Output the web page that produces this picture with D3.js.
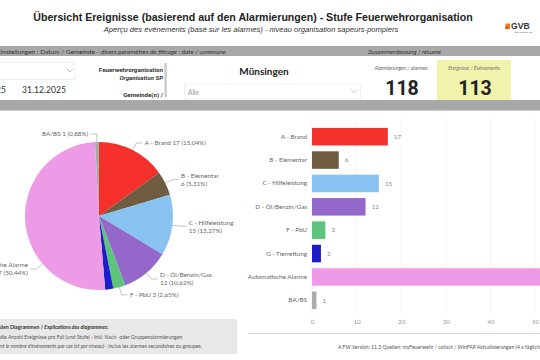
<!DOCTYPE html>
<html><head><meta charset="utf-8">
<script src="https://cdn.jsdelivr.net/npm/d3@7"></script>
<style>
html,body{margin:0;padding:0;background:#fff;overflow:hidden}
svg{display:block}
text{font-family:Lato,"Open Sans",sans-serif}
</style></head>
<body>
<svg id="c" width="540" height="360"></svg>
<script>
// ---- data ----
const categories = ["A - Brand","B - Elementar","C - Hilfeleistung","D - Öl/Benzin/Gas","F - PbU","G - Tierrettung","Automatische Alarme","BA/BS"];
const values = [17,6,15,12,3,2,57,1];
const colors = ["#F5302A","#705C40","#88C2F1","#9467CB","#5DC47C","#1C1CC9","#EE9BE7","#ABABAB"];
const pieLabelShown = [true,true,true,true,true,false,true,true];
const xTicks = [0,10,20,30,40,50];
const alarmCount = 118;
const eventCount = 113;
const dateEnd = "31.12.2025";
const organisation = "Münsingen";

const svg = d3.select("#c");
const total = d3.sum(values);
const fmtPct = v => (v/total*100).toFixed(2).replace(".", ",") + "%";

// ---- header ----
svg.append("text").attr("x",253).attr("y",21).attr("text-anchor","middle")
  .style("font-family","'Liberation Sans',Arial,sans-serif").style("font-weight","bold").style("font-size","10.6px").attr("fill","#222")
  .text("Übersicht Ereignisse (basierend auf den Alarmierungen) - Stufe Feuerwehrorganisation");
svg.append("text").attr("x",251).attr("y",31.5).attr("text-anchor","middle")
  .style("font-family","'Liberation Sans',Arial,sans-serif").style("font-style","italic").style("font-size","7.6px").attr("fill","#333")
  .text("Aperçu des événements (basé sur les alarmes) - niveau organisation sapeurs-pompiers");
// logo
svg.append("rect").attr("x",505.5).attr("y",23.5).attr("width",4.5).attr("height",5.5).attr("fill","#F07A1C");
svg.append("rect").attr("x",505.5).attr("y",26.5).attr("width",2.2).attr("height",2.5).attr("fill","#E2401B");
svg.append("text").attr("x",511).attr("y",29).style("font-family","'Liberation Sans',Arial,sans-serif").style("font-weight","bold").style("font-size","8.6px").attr("fill","#333").text("GVB");
svg.append("text").attr("x",515).attr("y",32.5).style("font-size","2.6px").attr("fill","#666").text("Der Partner der");

// grey bars
svg.append("rect").attr("x",0).attr("y",46).attr("width",540).attr("height",10).attr("fill","#A8A8A8");
svg.append("rect").attr("x",0).attr("y",100).attr("width",540).attr("height",10).attr("fill","#A8A8A8");
svg.append("line").attr("x1",0).attr("x2",540).attr("y1",110.5).attr("y2",110.5).attr("stroke","#cfcfcf");
const t1 = svg.append("text").attr("x",-3).attr("y",53.5).style("font-size","6.5px").attr("fill","#333");
t1.append("tspan").text("Einstellungen : Datum / Gemeinde  - ");
t1.append("tspan").style("font-style","italic").text("divers paramètres de filtrage : date / commune");
svg.append("text").attr("x",368).attr("y",53.5).style("font-size","6.3px").style("font-style","italic").attr("fill","#333").text("Zusammenfassung / résumé");

// filter area
function chevron(x,y){
  svg.append("path").attr("d",`M${x-3},${y-1.5}L${x},${y+1.5}L${x+3},${y-1.5}`).attr("fill","none").attr("stroke","#999").attr("stroke-width",0.6);
}
svg.append("rect").attr("x",-1).attr("y",62.5).attr("width",76).attr("height",17).attr("fill","#fff").attr("stroke","#e2e2e2").attr("stroke-width",0.6);
chevron(70,70.5);
svg.append("text").attr("x",-4).attr("y",92.5).style("font-size","8.6px").attr("fill","#333").text("25");
svg.append("text").attr("x",22).attr("y",92.5).style("font-size","8.6px").attr("fill","#333").text(dateEnd);
const lf = {"font-size":"6.2px","font-weight":"bold","font-family":"Roboto,sans-serif"};
function lt(y,txt,it){const t=svg.append("text").attr("x",163).attr("y",y).attr("text-anchor","end").attr("fill","#333").text(txt);
  Object.entries(lf).forEach(([k,v])=>t.style(k,v)); if(it) t.style("font-style","italic"); }
lt(71.5,"Feuerwehrorganisation");
lt(80,"Organisation SP",true);
lt(97,"Gemeinde(n) /");
svg.append("rect").attr("x",164.5).attr("y",63).attr("width",2.2).attr("height",34).attr("fill","#C6C6C6");
svg.append("text").attr("x",264).attr("y",74.5).attr("text-anchor","middle").style("font-size","10px").style("font-weight","bold").attr("fill","#222").text(organisation);
svg.append("rect").attr("x",184.5).attr("y",84).attr("width",176).attr("height",15).attr("fill","#fff").attr("stroke","#e6e6e6").attr("stroke-width",0.6);
chevron(354,91);
svg.append("text").attr("x",188).attr("y",94.5).style("font-size","6.6px").attr("fill","#999").text("Alle");
// summary
svg.append("rect").attr("x",437).attr("y",60).attr("width",74).attr("height",40).attr("fill","#F0F3AB");
svg.append("text").attr("x",401).attr("y",69.5).attr("text-anchor","middle").style("font-size","5.2px").style("font-style","italic").attr("fill","#666").text("Alarmierungen / alarmes");
svg.append("text").attr("x",474).attr("y",69.5).attr("text-anchor","middle").style("font-size","5.2px").style("font-style","italic").attr("fill","#777").text("Ereignisse / Événements");
svg.append("text").attr("x",402).attr("y",94.5).attr("text-anchor","middle").style("font-size","19.5px").style("font-weight","bold").style("font-family","Roboto,sans-serif").attr("fill","#222").text(alarmCount);
svg.append("text").attr("x",475).attr("y",94.5).attr("text-anchor","middle").style("font-size","19.5px").style("font-weight","bold").style("font-family","Roboto,sans-serif").attr("fill","#222").text(eventCount);

// ---- pie ----
const cx=99, cy=216, R=74;
const pie = d3.pie().sort(null).value(d=>d.v);
const arcs = pie(values.map((v,i)=>({v,i})));
const arc = d3.arc().innerRadius(0).outerRadius(R);
const gp = svg.append("g").attr("transform",`translate(${cx},${cy})`);
gp.selectAll("path").data(arcs).join("path").attr("d",arc).attr("fill",d=>colors[d.data.i]);
const labelFs = 6.3;
arcs.forEach(d=>{
  const i=d.data.i; if(!pieLabelShown[i]) return;
  const span=d.endAngle-d.startAngle;
  const a = span>Math.PI*0.6 ? d.startAngle+span*0.3 : (d.startAngle+d.endAngle)/2;
  const s=Math.sin(a), c=-Math.cos(a);
  const p0=[R*s,R*c], p1=[(R+8)*s,(R+8)*c];
  const dir = s>=0?1:-1;
  const p2=[p1[0]+dir*6,p1[1]];
  gp.append("polyline").attr("points",[p0,p1,p2].map(p=>p.join(",")).join(" ")).attr("fill","none").attr("stroke","#9a9a9a").attr("stroke-width",0.6);
  const two = Math.abs(s)>0.6;
  const t = gp.append("text").attr("x",p2[0]+dir*2.5).attr("text-anchor",dir>0?"start":"end").style("font-size",labelFs+"px").attr("fill","#666");
  const l1 = categories[i], l2 = values[i]+" ("+fmtPct(values[i])+")";
  if(two){
    t.attr("y",p1[1]-1.6);
    t.append("tspan").text(l1);
    t.append("tspan").attr("x",p2[0]+dir*2.5).attr("dy",8).text(l2);
  } else {
    t.attr("y",p1[1]+2.2).text(l1+" "+l2);
  }
});

// ---- bar chart ----
const x = d3.scaleLinear().domain([0,50]).range([312,535]);
const y = d3.scaleBand().domain(categories).range([125,312]).paddingInner(0.25).paddingOuter(0.125);
const gb = svg.append("g");
gb.selectAll("line.grid").data(xTicks).join("line").attr("class","grid")
  .attr("x1",d=>x(d)).attr("x2",d=>x(d)).attr("y1",118).attr("y2",315).attr("stroke","#efefef").attr("stroke-width",0.7);
gb.selectAll("rect").data(values).join("rect")
  .attr("x",x(0)).attr("y",(d,i)=>y(categories[i])).attr("width",d=>x(d)-x(0)).attr("height",y.bandwidth())
  .attr("fill",(d,i)=>colors[i]);
gb.selectAll("text.val").data(values).join("text").attr("class","val")
  .attr("x",d=>x(d)+6).attr("y",(d,i)=>y(categories[i])+y.bandwidth()/2+2.2)
  .style("font-size","6.3px").attr("fill","#888").text(d=>d);
const ya = d3.axisLeft(y).tickSize(0).tickPadding(5);
const yg = svg.append("g").attr("transform",`translate(${x(0)},0)`).call(ya);
yg.select(".domain").remove();
yg.selectAll("text").style("font-size","6.3px").style("font-family","Lato,sans-serif").attr("fill","#666");
const xa = d3.axisBottom(x).tickValues(xTicks).tickSize(0).tickPadding(0);
const xg = svg.append("g").attr("transform",`translate(0,320)`).call(xa);
xg.select(".domain").remove();
xg.selectAll("text").style("font-size","6.3px").style("font-family","Lato,sans-serif").attr("fill","#999");

// ---- footer ----
svg.append("line").attr("x1",248).attr("x2",540).attr("y1",333.5).attr("y2",333.5).attr("stroke","#d0d0d0").attr("stroke-width",0.8);
svg.append("rect").attr("x",0).attr("y",319).attr("width",237).attr("height",35).attr("fill","#E8E8E8");
const e1 = svg.append("text").attr("x",0).attr("y",329).style("font-size","5.2px").style("font-weight","bold").attr("fill","#333");
e1.append("tspan").text("den Diagrammen / ");
e1.append("tspan").style("font-style","italic").text("Explications des diagrammes:");
svg.append("text").attr("x",0).attr("y",338.5).style("font-size","5.1px").attr("fill","#555").text("die Anzahl Ereignisse pro Fall (und Stufe) - inkl. Nach- oder Gruppenalarmierungen");
const e3 = svg.append("text").attr("x",0).attr("y",348).style("font-size","5.1px").attr("fill","#555");
e3.append("tspan").style("font-style","italic").text("nt le nombre d'événements par cas (et par niveau) -   ");
e3.append("tspan").text("inclus les alarmes secondaires ou groupes.");
svg.append("text").attr("x",338).attr("y",349).style("font-size","5.1px").attr("fill","#555")
  .text("A FW  Version: 11.3  Quellen: myFeuerwehr / collact / WinFAP   Aktualisierungen (4 x täglich)");
</script>
</body></html>
